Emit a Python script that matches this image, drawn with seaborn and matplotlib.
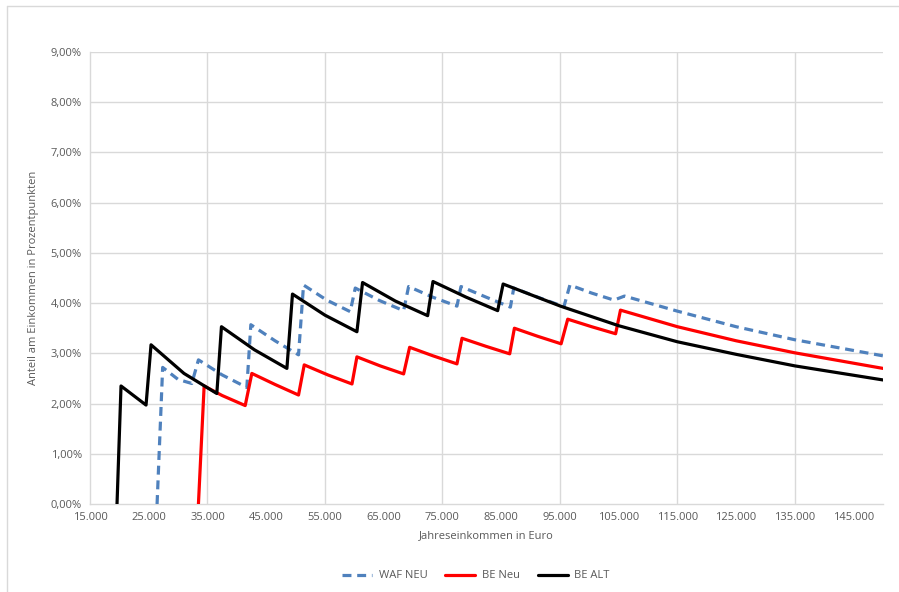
import numpy as np
import pandas as pd
import matplotlib
matplotlib.use('Agg')
import matplotlib.pyplot as plt
import seaborn as sns
from matplotlib.ticker import FuncFormatter, MultipleLocator
from matplotlib.lines import Line2D

# data (income in EUR, share in percent)
waf_x = [26420, 27370, 30000, 32330, 33460, 37500, 41700, 42380, 46500, 50500,
         51350, 55300, 59300, 60160, 64300, 68390, 69240, 73300, 77470, 78160,
         82400, 86570, 87140, 91400, 95680, 96700, 100400, 104200, 105990, 115000,
         125000, 135000, 150000]
waf_y = [0.00, 2.72, 2.48, 2.40, 2.87, 2.57, 2.32, 3.57, 3.25, 2.97,
         4.36, 4.06, 3.83, 4.30, 4.05, 3.85, 4.33, 4.12, 3.94, 4.33,
         4.12, 3.92, 4.30, 4.11, 3.93, 4.36, 4.20, 4.06, 4.14, 3.84,
         3.53, 3.27, 2.95]

be_neu_x = [33460, 34430, 37500, 41420, 42550, 46500, 50500, 51470, 55500, 59600,
            60440, 64400, 68390, 69410, 73400, 77470, 78330, 82400, 86450, 87250,
            91200, 95200, 96330, 100400, 104480, 105310, 115000, 125000, 135000, 150000]
be_neu_y = [0.00, 2.35, 2.16, 1.96, 2.60, 2.38, 2.17, 2.77, 2.57, 2.39,
            2.93, 2.75, 2.59, 3.12, 2.95, 2.79, 3.30, 3.14, 2.99, 3.50,
            3.34, 3.19, 3.68, 3.53, 3.39, 3.86, 3.53, 3.25, 3.01, 2.70]

be_alt_x = [19600, 20280, 24540, 25390, 31000, 36590, 37380, 43000, 48520, 49470,
            55000, 60440, 61400, 67000, 72480, 73390, 79000, 84400, 85330, 95090,
            105000, 115000, 125000, 135000, 150000]
be_alt_y = [0.00, 2.35, 1.97, 3.17, 2.60, 2.20, 3.53, 3.07, 2.70, 4.18,
            3.76, 3.43, 4.41, 4.04, 3.75, 4.43, 4.12, 3.85, 4.38, 3.94,
            3.55, 3.23, 2.98, 2.75, 2.47]

x_ticks = list(range(15000, 150000, 10000))
x_grid = [35000, 55000, 75000, 95000, 115000, 135000]

sns.set_style('white')
plt.rcParams['font.family'] = ['Open Sans', 'DejaVu Sans']
txt_col = '#595959'
grid_col = '#d9d9d9'
blue = '#4f81bd'
dash = (0, (2.8, 1.8))

fig = plt.figure(figsize=(8.99, 5.92), dpi=100)
ax = fig.add_axes([90/899, 1-504/592, (883-90)/899, (504-52)/592])

waf = pd.DataFrame({'x': waf_x, 'y': waf_y})
neu = pd.DataFrame({'x': be_neu_x, 'y': be_neu_y})
alt = pd.DataFrame({'x': be_alt_x, 'y': be_alt_y})

sns.lineplot(data=waf, x='x', y='y', ax=ax, color=blue, lw=2.3,
             estimator=None, sort=False, linestyle=dash, zorder=3)
sns.lineplot(data=neu, x='x', y='y', ax=ax, color='#ff0000', lw=2.3,
             estimator=None, sort=False, zorder=4)
sns.lineplot(data=alt, x='x', y='y', ax=ax, color='black', lw=2.3,
             estimator=None, sort=False, zorder=5)

ax.set_xlim(15000, 150000)
ax.set_ylim(0, 9)
ax.set_xticks(x_ticks)
ax.yaxis.set_major_locator(MultipleLocator(1))
ax.xaxis.set_major_formatter(FuncFormatter(lambda v, p: f'{int(v):,}'.replace(',', '.')))
ax.yaxis.set_major_formatter(FuncFormatter(lambda v, p: f'{v:.2f}%'.replace('.', ',')))
ax.tick_params(length=0, labelsize=8, labelcolor=txt_col, pad=6)

ax.grid(False)
for v in range(1, 10):
    ax.axhline(v, color=grid_col, lw=1, zorder=1)
for v in x_grid:
    ax.axvline(v, color=grid_col, lw=1, zorder=1)
for s in ['top', 'right']:
    ax.spines[s].set_visible(False)
for s in ['left', 'bottom']:
    ax.spines[s].set_color(grid_col)
    ax.spines[s].set_linewidth(1)

ax.set_xlabel('Jahreseinkommen in Euro', fontsize=8, color=txt_col, labelpad=5)
ax.set_ylabel('Anteil am Einkommen in Prozentpunkten', fontsize=8, color=txt_col, labelpad=8)

handles = [Line2D([], [], color=blue, lw=2.3, linestyle=dash),
           Line2D([], [], color='#ff0000', lw=2.3),
           Line2D([], [], color='black', lw=2.3)]
leg = fig.legend(handles, ['WAF NEU', 'BE Neu', 'BE ALT'], loc='center',
                 bbox_to_anchor=(476/899, 1-576/592), ncol=3, frameon=False,
                 fontsize=8, handlelength=2.7, columnspacing=1.6, handletextpad=0.6)
for t in leg.get_texts():
    t.set_color(txt_col)

# chart area border (top and left edges visible)
fig.add_artist(Line2D([7/899, 1], [1-6/592, 1-6/592], color=grid_col, lw=1))
fig.add_artist(Line2D([7/899, 7/899], [0, 1-6/592], color=grid_col, lw=1))

fig.savefig('out.png', dpi=100)
plt.close()
